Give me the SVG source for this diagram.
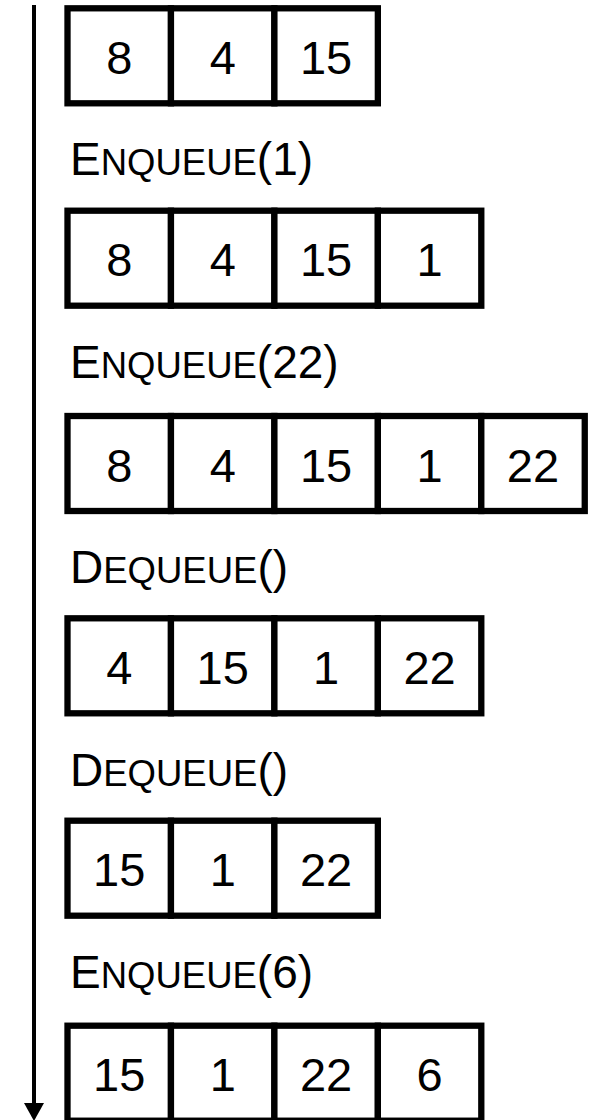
<svg xmlns="http://www.w3.org/2000/svg" width="594" height="1120" viewBox="0 0 594 1120">
<defs>
<style>
.cell{fill:#fff;stroke:#000;stroke-width:6.3}
.num{font-family:"Liberation Sans",Arial,sans-serif;font-size:47px;text-anchor:middle;fill:#000}
.lbl{font-family:"Liberation Sans",Arial,sans-serif;font-size:46px;fill:#000}
.sc{font-size:36.5px}
.axis{stroke:#000;stroke-width:4;fill:none}
</style>
</defs>
<rect width="594" height="1120" fill="#fff"/>
<g id="connectors">
<line class="axis" x1="34" y1="5" x2="34" y2="1104"/>
<polygon points="24,1103 44,1103 34,1121" fill="#000"/>
</g>
<g id="row1">
<rect class="cell" x="67.5" y="8.3" width="103.45" height="95"/>
<rect class="cell" x="170.95" y="8.3" width="103.45" height="95"/>
<rect class="cell" x="274.4" y="8.3" width="103.45" height="95"/>
<text class="num" x="119.2" y="73.8">8</text>
<text class="num" x="222.7" y="73.8">4</text>
<text class="num" x="326.1" y="73.8">15</text>
</g>
<g id="label1"><text class="lbl" x="70" y="175">E<tspan class="sc">NQUEUE</tspan>(1)</text></g>
<g id="row2">
<rect class="cell" x="67.5" y="210.7" width="103.45" height="95"/>
<rect class="cell" x="170.95" y="210.7" width="103.45" height="95"/>
<rect class="cell" x="274.4" y="210.7" width="103.45" height="95"/>
<rect class="cell" x="377.85" y="210.7" width="103.45" height="95"/>
<text class="num" x="119.2" y="276.2">8</text>
<text class="num" x="222.7" y="276.2">4</text>
<text class="num" x="326.1" y="276.2">15</text>
<text class="num" x="429.6" y="276.2">1</text>
</g>
<g id="label2"><text class="lbl" x="70" y="378.3">E<tspan class="sc">NQUEUE</tspan>(22)</text></g>
<g id="row3">
<rect class="cell" x="67.5" y="416" width="103.45" height="95"/>
<rect class="cell" x="170.95" y="416" width="103.45" height="95"/>
<rect class="cell" x="274.4" y="416" width="103.45" height="95"/>
<rect class="cell" x="377.85" y="416" width="103.45" height="95"/>
<rect class="cell" x="481.3" y="416" width="103.45" height="95"/>
<text class="num" x="119.2" y="481.5">8</text>
<text class="num" x="222.7" y="481.5">4</text>
<text class="num" x="326.1" y="481.5">15</text>
<text class="num" x="429.6" y="481.5">1</text>
<text class="num" x="533" y="481.5">22</text>
</g>
<g id="label3"><text class="lbl" x="70" y="583.3">D<tspan class="sc">EQUEUE</tspan>()</text></g>
<g id="row4">
<rect class="cell" x="67.5" y="618.3" width="103.45" height="95"/>
<rect class="cell" x="170.95" y="618.3" width="103.45" height="95"/>
<rect class="cell" x="274.4" y="618.3" width="103.45" height="95"/>
<rect class="cell" x="377.85" y="618.3" width="103.45" height="95"/>
<text class="num" x="119.2" y="683.8">4</text>
<text class="num" x="222.7" y="683.8">15</text>
<text class="num" x="326.1" y="683.8">1</text>
<text class="num" x="429.6" y="683.8">22</text>
</g>
<g id="label4"><text class="lbl" x="70" y="786">D<tspan class="sc">EQUEUE</tspan>()</text></g>
<g id="row5">
<rect class="cell" x="67.5" y="820.7" width="103.45" height="95"/>
<rect class="cell" x="170.95" y="820.7" width="103.45" height="95"/>
<rect class="cell" x="274.4" y="820.7" width="103.45" height="95"/>
<text class="num" x="119.2" y="886.2">15</text>
<text class="num" x="222.7" y="886.2">1</text>
<text class="num" x="326.1" y="886.2">22</text>
</g>
<g id="label5"><text class="lbl" x="70" y="988.3">E<tspan class="sc">NQUEUE</tspan>(6)</text></g>
<g id="row6">
<rect class="cell" x="67.5" y="1025.7" width="103.45" height="95"/>
<rect class="cell" x="170.95" y="1025.7" width="103.45" height="95"/>
<rect class="cell" x="274.4" y="1025.7" width="103.45" height="95"/>
<rect class="cell" x="377.85" y="1025.7" width="103.45" height="95"/>
<text class="num" x="119.2" y="1091.2">15</text>
<text class="num" x="222.7" y="1091.2">1</text>
<text class="num" x="326.1" y="1091.2">22</text>
<text class="num" x="429.6" y="1091.2">6</text>
</g>
</svg>
